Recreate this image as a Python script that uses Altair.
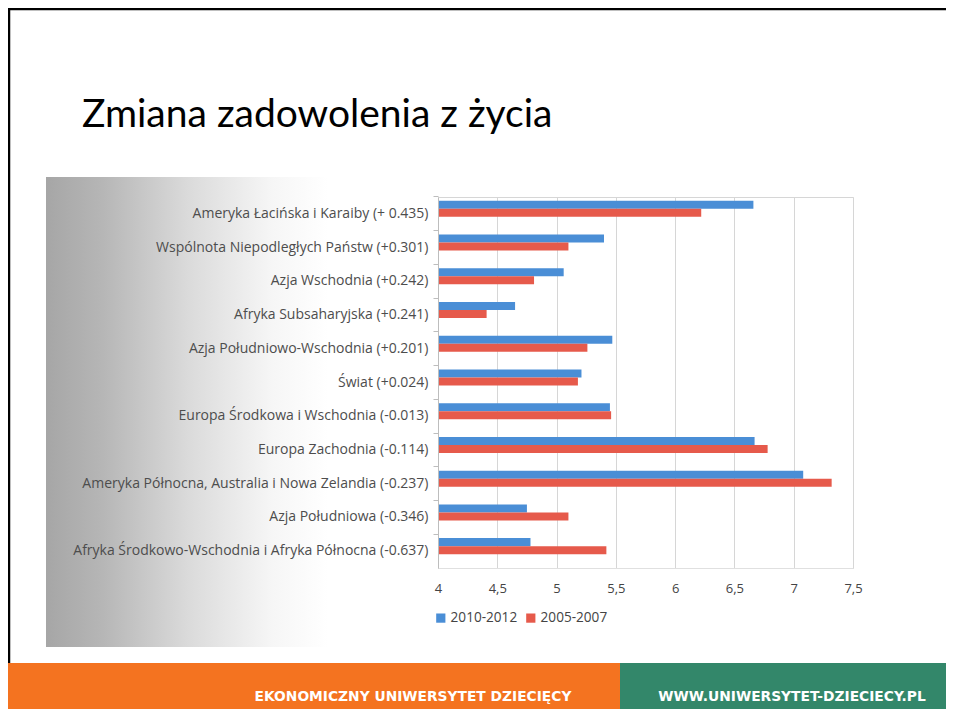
import altair as alt
import pandas as pd

regions = [
    "Ameryka Łacińska i Karaiby (+ 0.435)",
    "Wspólnota Niepodległych Państw (+0.301)",
    "Azja Wschodnia (+0.242)",
    "Afryka Subsaharyjska (+0.241)",
    "Azja Południowo-Wschodnia (+0.201)",
    "Świat (+0.024)",
    "Europa Środkowa i Wschodnia (-0.013)",
    "Europa Zachodnia (-0.114)",
    "Ameryka Północna, Australia i Nowa Zelandia (-0.237)",
    "Azja Południowa (-0.346)",
    "Afryka Środkowo-Wschodnia i Afryka Północna (-0.637)",
]
series = ["2010-2012", "2005-2007"]
v_2010_2012 = [6.66, 5.40, 5.06, 4.65, 5.47, 5.21, 5.45, 6.67, 7.08, 4.75, 4.78]
v_2005_2007 = [6.22, 5.10, 4.81, 4.41, 5.26, 5.18, 5.46, 6.78, 7.32, 5.10, 5.42]
x_ticks = [4, 4.5, 5, 5.5, 6, 6.5, 7, 7.5]
colors = ["#4a8ed6", "#e65a4b"]

title_text = ["Zmiana zadowolenia z życia"]
footer_left = ["EKONOMICZNY UNIWERSYTET DZIECIĘCY"]
footer_right = ["WWW.UNIWERSYTET-DZIECIECY.PL"]

rows = []
for i, r in enumerate(regions):
    rows.append({"region": r, "series": series[0], "value": v_2010_2012[i]})
    rows.append({"region": r, "series": series[1], "value": v_2005_2007[i]})
df = pd.DataFrame(rows)

one = pd.DataFrame({"k": [0]})

bars = alt.Chart(df).mark_bar().encode(
    y=alt.Y("region:N", sort=regions,
            scale=alt.Scale(paddingInner=0.228, paddingOuter=0.114),
            axis=alt.Axis(title=None, labelFont="Open Sans", labelFontSize=14,
                          labelColor="#4d4d4d", labelPadding=5, tickColor="#bdbdbd",
                          tickSize=5, domainColor="#bdbdbd", bandPosition=-0.148,
                          labelLimit=440, zindex=1)),
    yOffset=alt.YOffset("series:N", sort=series,
                        scale=alt.Scale(paddingInner=0, paddingOuter=0.625, align=0)),
    x=alt.X("value:Q",
            scale=alt.Scale(domain=[4, 7.5], zero=False, nice=False),
            axis=alt.Axis(title=None, values=x_ticks, labelFont="Open Sans",
                          labelFontSize=13, labelColor="#444444", labelPadding=14,
                          labelFlush=False, ticks=False, domainColor="#e0e0e0",
                          gridColor="#d6d6d6",
                          labelExpr="replace(toString(datum.value), '.', ',')")),
    x2=alt.datum(4),
    color=alt.Color("series:N", sort=series,
                    scale=alt.Scale(domain=series, range=colors),
                    legend=alt.Legend(title=None, orient="none", legendX=-4, legendY=414,
                                      direction="horizontal", symbolType="square",
                                      symbolSize=85, labelFont="Open Sans",
                                      labelFontSize=13.6, labelColor="#444444",
                                      labelOffset=3, columnPadding=6)),
)

grad = alt.Chart(one).mark_rect(
    fill=alt.Gradient(gradient="linear", x1=0, x2=1, y1=0, y2=0,
                      stops=[alt.GradientStop(color="#a6a6a6", offset=0),
                             alt.GradientStop(color="#b6b6b6", offset=0.2),
                             alt.GradientStop(color="#dadada", offset=0.5),
                             alt.GradientStop(color="#f6f6f6", offset=0.8),
                             alt.GradientStop(color="#ffffff", offset=1)])
).encode(x=alt.value(-392), x2=alt.value(-110), y=alt.value(-20), y2=alt.value(450))

orange = alt.Chart(one).mark_rect(color="#f47320").encode(
    x=alt.value(-430), x2=alt.value(182), y=alt.value(466), y2=alt.value(512))
green = alt.Chart(one).mark_rect(color="#33876a").encode(
    x=alt.value(182), x2=alt.value(508), y=alt.value(466), y2=alt.value(512))

border_left = alt.Chart(one).mark_rule(color="black", strokeWidth=2.5).encode(
    x=alt.value(-429), y=alt.value(-189), y2=alt.value(466))
border_top = alt.Chart(one).mark_rule(color="black", strokeWidth=2.5).encode(
    x=alt.value(-430), x2=alt.value(508), y=alt.value(-188))

title = alt.Chart(pd.DataFrame({"t": title_text})).mark_text(
    font="Lato", fontSize=39, color="black", align="left", baseline="alphabetic"
).encode(text="t:N", x=alt.value(-356), y=alt.value(-70))

ft1 = alt.Chart(pd.DataFrame({"t": footer_left})).mark_text(
    font="DejaVu Sans", fontSize=13.8, fontWeight="bold", color="white",
    align="center", baseline="middle"
).encode(text="t:N", x=alt.value(-25), y=alt.value(500))
ft2 = alt.Chart(pd.DataFrame({"t": footer_right})).mark_text(
    font="DejaVu Sans", fontSize=13.8, fontWeight="bold", color="white",
    align="center", baseline="middle"
).encode(text="t:N", x=alt.value(354), y=alt.value(500))

chart = alt.layer(grad, orange, green, border_left, border_top, title, ft1, ft2, bars).properties(
    width=415, height=371,
    padding={"left": 430, "top": 189, "right": 93, "bottom": 141},
    autosize=alt.AutoSizeParams(type="none"),
    background="white",
).configure_view(stroke="#d6d6d6")

chart.save("out.html", embed_options={"renderer": "svg", "actions": False})
